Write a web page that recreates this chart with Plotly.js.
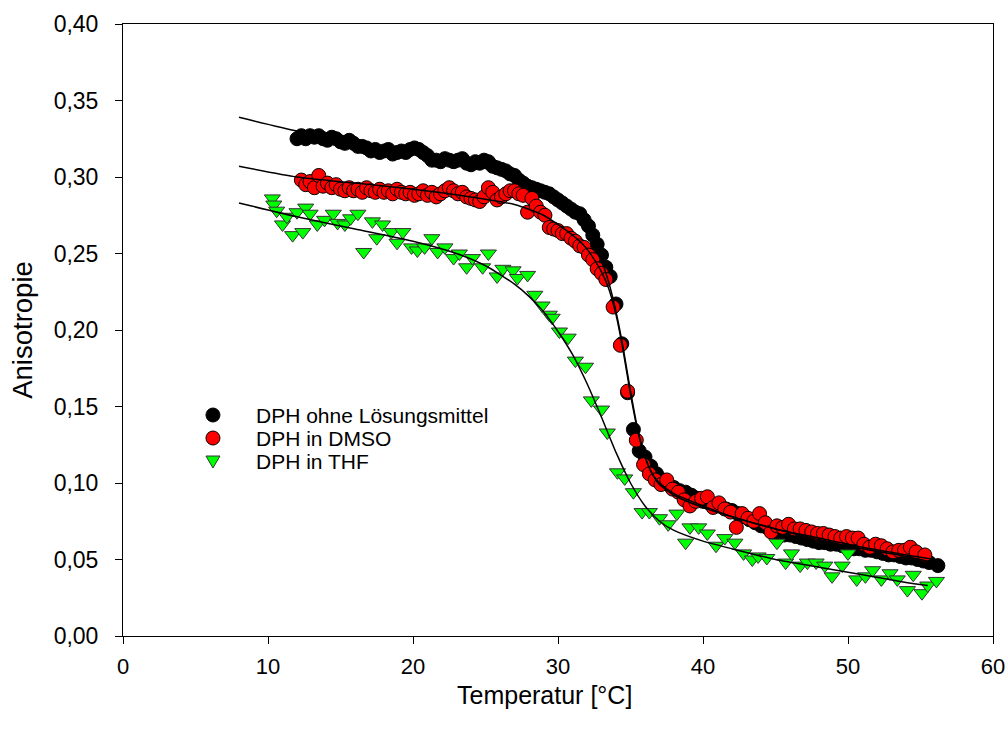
<!DOCTYPE html>
<html><head><meta charset="utf-8">
<script src="https://cdn.plot.ly/plotly-3.0.1.min.js"></script>
<style>html,body{margin:0;padding:0;background:#fff}#chart{width:1008px;height:729px}</style>
</head><body><div id="chart"></div>
<script>
// DPH ohne Lösungsmittel
const blackT = [12.0,12.3,12.6,12.9,13.2,13.5,13.8,14.1,14.4,14.7,15.0,15.3,15.6,15.9,16.2,16.5,16.8,17.1,17.4,17.7,18.0,18.3,18.6,18.9,19.2,19.5,19.8,20.1,20.4,20.7,21.0,21.3,21.6,21.9,22.2,22.5,22.8,23.1,23.4,23.7,24.0,24.3,24.6,24.9,25.2,25.5,25.8,26.1,26.4,26.7,27.0,27.3,27.6,27.9,28.2,28.5,28.8,29.1,29.4,29.7,30.0,30.3,30.6,30.9,31.2,31.5,31.8,32.1,32.4,32.7,33.0,33.3,33.6,34.0,34.4,34.8,35.2,35.6,36.0,36.4,36.8,37.2,37.6,38.0,38.4,38.8,39.2,39.6,40.0,40.4,40.8,41.2,41.6,42.0,42.4,42.8,43.2,43.6,44.0,44.4,44.8,45.2,45.6,46.0,46.4,46.8,47.2,47.6,48.0,48.4,48.8,49.2,49.6,50.0,50.4,50.8,51.2,51.6,52.0,52.4,52.8,53.2,53.6,54.0,54.4,54.8,55.2,55.6,56.2];
const blackA = [.325,.327,.325,.327,.326,.327,.325,.324,.326,.325,.323,.322,.324,.322,.320,.320,.319,.317,.318,.316,.317,.318,.315,.316,.317,.316,.318,.319,.318,.316,.314,.311,.311,.310,.312,.311,.310,.311,.312,.309,.308,.310,.309,.311,.310,.307,.306,.305,.304,.302,.301,.298,.296,.294,.293,.292,.291,.290,.289,.287,.285,.283,.281,.279,.277,.276,.272,.268,.262,.256,.249,.241,.235,.217,.191,.159,.135,.121,.117,.111,.106,.102,.099,.097,.095,.094,.092,.090,.088,.087,.086,.085,.083,.082,.080,.078,.076,.074,.072,.071,.068,.067,.066,.066,.065,.064,.063,.062,.061,.061,.060,.060,.059,.058,.057,.057,.056,.056,.055,.054,.053,.053,.052,.051,.051,.050,.049,.048,.046];
// DPH in DMSO
const redT = [12.3,12.6,12.9,13.2,13.5,13.8,14.1,14.4,14.7,15.0,15.3,15.6,15.9,16.2,16.5,16.8,17.1,17.4,17.7,18.0,18.3,18.6,18.9,19.2,19.5,19.8,20.1,20.4,20.7,21.0,21.3,21.6,21.9,22.2,22.5,22.8,23.1,23.4,23.7,24.0,24.3,24.6,24.9,25.2,25.5,25.8,26.1,26.4,26.7,27.0,27.3,27.6,27.9,28.2,28.5,28.8,29.1,29.4,29.7,30.0,30.3,30.6,30.9,31.2,31.5,31.8,32.1,32.4,32.7,33.0,33.3,33.8,34.3,34.8,35.4,35.9,36.3,36.7,37.1,37.5,37.9,38.3,38.7,39.1,39.5,39.9,40.3,40.7,41.1,41.5,41.9,42.3,42.7,43.1,43.5,43.9,44.3,44.7,45.1,45.5,45.9,46.3,46.7,47.1,47.5,47.9,48.3,48.7,49.1,49.5,49.9,50.3,50.7,51.1,51.5,51.9,52.3,52.7,53.1,53.5,53.9,54.3,54.7,55.3];
const redA = [.298,.295,.297,.293,.301,.294,.296,.293,.295,.292,.291,.293,.291,.292,.290,.293,.291,.290,.292,.290,.291,.289,.292,.290,.289,.290,.288,.289,.291,.288,.290,.287,.289,.291,.293,.291,.289,.290,.287,.286,.285,.284,.287,.293,.290,.285,.287,.289,.291,.291,.289,.288,.277,.286,.281,.277,.275,.267,.266,.265,.263,.263,.260,.258,.255,.254,.249,.246,.240,.237,.233,.215,.190,.160,.128,.112,.106,.102,.099,.102,.096,.094,.089,.085,.088,.090,.091,.084,.087,.083,.081,.071,.080,.077,.075,.080,.074,.068,.072,.071,.073,.070,.070,.069,.068,.067,.067,.066,.065,.064,.065,.064,.064,.060,.058,.060,.059,.057,.055,.056,.056,.058,.055,.053];
// DPH in THF
const greenT = [10.3,10.4,10.6,11.0,11.3,11.7,12.0,12.4,12.6,12.9,13.4,13.9,14.5,14.8,15.3,15.7,16.2,16.6,17.2,17.5,17.9,18.5,18.9,19.3,19.9,20.3,20.8,21.3,21.7,22.2,22.8,23.2,23.7,24.1,24.8,25.2,25.8,26.2,26.9,27.2,27.9,28.4,28.9,29.4,29.6,30.1,30.7,31.2,31.9,32.3,33.0,33.4,34.1,34.6,35.2,35.8,36.3,37.0,37.6,38.2,38.8,39.1,39.7,40.3,40.9,41.5,42.2,42.8,43.4,43.8,44.4,45.1,45.7,46.1,46.7,47.2,47.8,48.4,48.9,49.6,50.0,50.6,51.2,51.7,52.3,52.9,53.4,54.1,54.5,55.1,55.5,56.1];
const greenA = [.286,.282,.278,.269,.274,.262,.277,.264,.280,.276,.269,.272,.276,.270,.269,.273,.276,.251,.271,.260,.269,.264,.257,.264,.254,.252,.254,.260,.251,.254,.247,.250,.241,.247,.241,.250,.235,.240,.239,.234,.236,.223,.216,.210,.208,.199,.195,.180,.176,.154,.148,.133,.107,.103,.094,.081,.081,.077,.073,.080,.061,.071,.071,.067,.059,.064,.061,.054,.050,.052,.051,.061,.048,.054,.046,.048,.048,.046,.039,.046,.054,.037,.039,.043,.037,.041,.037,.030,.040,.028,.033,.036];
// fitted curves
const fitBlackT = [8,12,16,20,24,27,29,31,32,33,33.5,34,34.5,35,35.5,36,36.5,37,38,40,42,45,48,51,54,56];
const fitBlackA = [.339,.330,.322,.315,.308,.300,.291,.276,.264,.245,.231,.212,.188,.160,.135,.117,.106,.100,.093,.085,.078,.070,.063,.057,.052,.048];
const fitRedT = [8,12,16,20,24,27,29,31,32,33,33.5,34,34.5,35,35.5,36,36.5,37,38,40,42,45,48,51,54,56];
const fitRedA = [.307,.300,.296,.292,.287,.282,.275,.262,.253,.238,.227,.210,.186,.158,.134,.117,.106,.099,.092,.084,.078,.070,.064,.058,.053,.050];
const fitGreenT = [8,12,16,20,23,25,27,28,29,30,31,32,33,34,35,36,37,38,40,42,45,48,51,54,55.5];
const fitGreenA = [.283,.274,.266,.258,.250,.242,.230,.222,.212,.199,.184,.165,.143,.120,.100,.085,.075,.069,.062,.057,.050,.045,.040,.035,.033];

const names = ['DPH ohne Lösungsmittel','DPH in DMSO','DPH in THF'];
const xTicks = [0,10,20,30,40,50,60];
const yTicks = [0,0.05,0.10,0.15,0.20,0.25,0.30,0.35,0.40];
const xTitle = 'Temperatur [°C]';
const yTitle = 'Anisotropie';

const FONT = '"Liberation Sans", Arial, Helvetica, sans-serif';
const fitLine = {color:'#000', width:1.5, shape:'spline', smoothing:0.6};
const markers = [
  {symbol:'circle', size:14, color:'#000000', line:{color:'#000', width:1}},
  {symbol:'circle', size:14, color:'#ff0000', line:{color:'#000', width:1}},
  {symbol:'triangle-down', size:14, color:'#00ff00', line:{color:'#333', width:1}}
];
const data = [
  {x:blackT, y:blackA, mode:'markers', type:'scatter', name:names[0], marker:markers[0], showlegend:false},
  {x:redT, y:redA, mode:'markers', type:'scatter', name:names[1], marker:markers[1], showlegend:false},
  {x:greenT, y:greenA, mode:'markers', type:'scatter', name:names[2], marker:markers[2], showlegend:false},
  {x:fitBlackT, y:fitBlackA, mode:'lines', type:'scatter', line:fitLine, showlegend:false, hoverinfo:'skip'},
  {x:fitRedT, y:fitRedA, mode:'lines', type:'scatter', line:fitLine, showlegend:false, hoverinfo:'skip'},
  {x:fitGreenT, y:fitGreenA, mode:'lines', type:'scatter', line:fitLine, showlegend:false, hoverinfo:'skip'}
];

// hand-built legend (tight line spacing as in the original)
const legX = 0.1034, legTextX = 0.1517;
const legY = [0.3611, 0.3235, 0.2859];
const annotations = names.map((n,i)=>({
  text:n, xref:'paper', yref:'paper', x:legTextX, y:legY[i], xanchor:'left', yanchor:'middle',
  showarrow:false, borderpad:0, font:{family:FONT, size:21, color:'#000'}
}));
annotations.push({
  text:xTitle, xref:'paper', yref:'paper', x:0.485, y:-0.097, xanchor:'center', yanchor:'middle',
  showarrow:false, borderpad:0, font:{family:FONT, size:25, color:'#000'}
});
const shapes = [
  {type:'circle', xref:'paper', yref:'paper', xsizemode:'pixel', ysizemode:'pixel',
   xanchor:legX, yanchor:legY[0], x0:-7, x1:7, y0:-7, y1:7,
   fillcolor:markers[0].color, line:{color:'#000', width:1}},
  {type:'circle', xref:'paper', yref:'paper', xsizemode:'pixel', ysizemode:'pixel',
   xanchor:legX, yanchor:legY[1], x0:-7, x1:7, y0:-7, y1:7,
   fillcolor:markers[1].color, line:{color:'#000', width:1}},
  {type:'path', xref:'paper', yref:'paper', xsizemode:'pixel', ysizemode:'pixel',
   xanchor:legX, yanchor:legY[2], path:'M -7,5 L 7,5 L 0,-7 Z',
   fillcolor:markers[2].color, line:{color:'#333', width:1}}
];

const layout = {
  width:1008, height:729,
  margin:{l:123, r:15, t:24, b:93},
  paper_bgcolor:'#fff', plot_bgcolor:'#fff',
  separators:', ',
  font:{family:FONT, size:22, color:'#000'},
  showlegend:false,
  annotations, shapes,
  xaxis:{range:[0,60], tickvals:xTicks, ticks:'outside', ticklen:7, tickcolor:'#000',
         showline:true, linecolor:'#000', linewidth:1, mirror:true, showgrid:false, zeroline:false,
         ticklabelstandoff:4,
         tickfont:{family:FONT, size:22, color:'#000'}},
  yaxis:{range:[0,0.40], tickvals:yTicks, tickformat:'.2f', ticks:'outside', ticklen:7, tickcolor:'#000',
         showline:true, linecolor:'#000', linewidth:1, mirror:true, showgrid:false, zeroline:false,
         ticklabelstandoff:12,
         tickfont:{family:FONT, size:23, color:'#000'},
         title:{text:yTitle, font:{family:FONT, size:27.5, color:'#000'}, standoff:13}}
};
Plotly.newPlot('chart', data, layout, {displayModeBar:false, staticPlot:true});
</script></body></html>
